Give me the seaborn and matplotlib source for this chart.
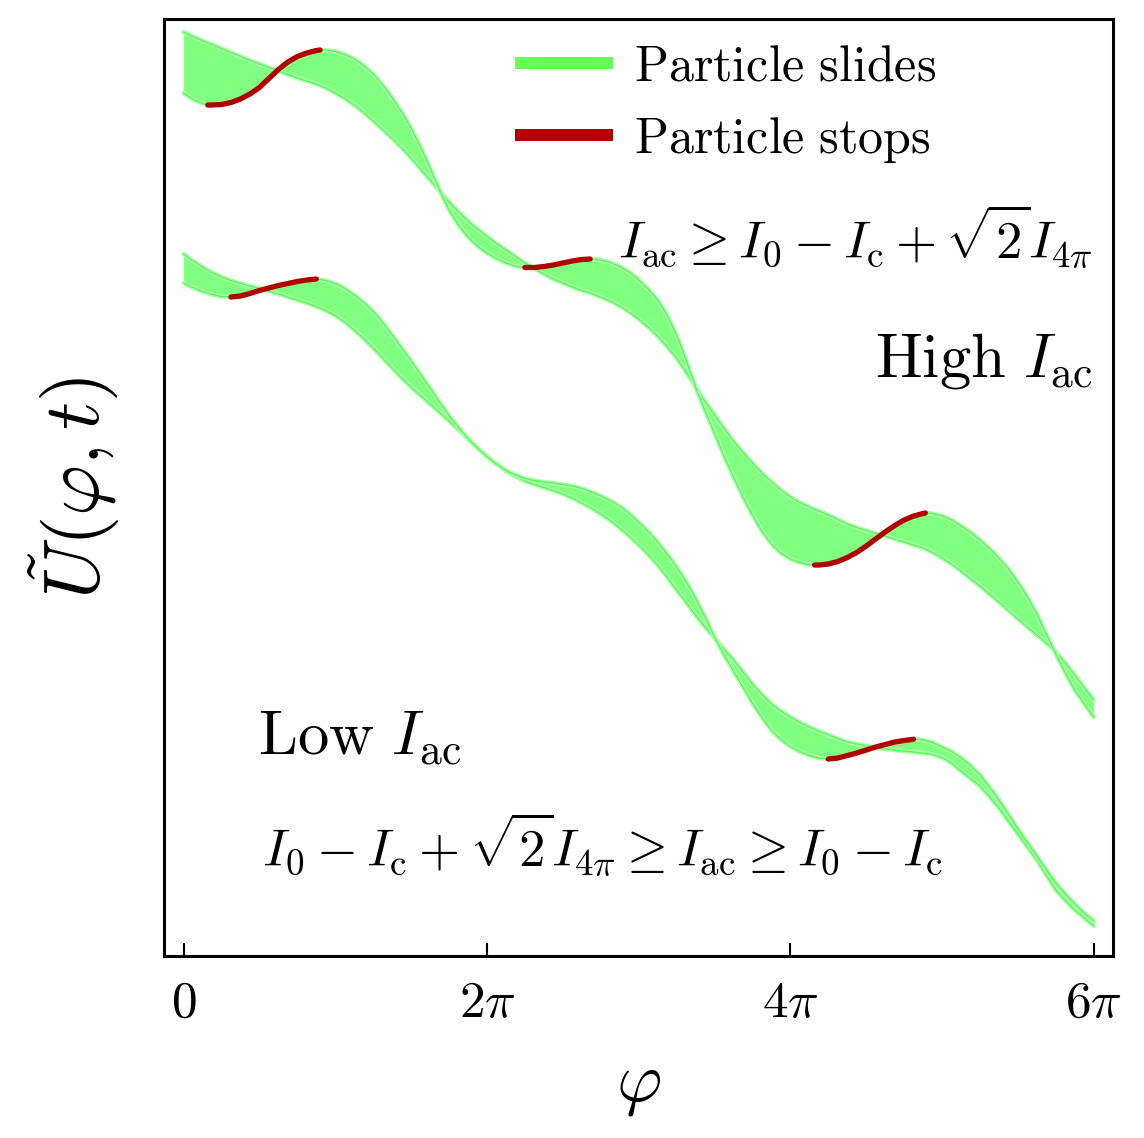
import numpy as np
import matplotlib
matplotlib.use("Agg")
import matplotlib.pyplot as plt
import seaborn as sns
from matplotlib.lines import Line2D

# phase samples (units of pi) and the two bounding potential curves of each band
# (potential in arbitrary units)
phi_hi = [0, 0.0625, 0.125, 0.16, 0.1875, 0.25, 0.3125, 0.375, 0.4375, 0.5,
          0.5625, 0.625, 0.6875, 0.75, 0.8125, 0.875, 0.9, 0.9375, 1.0, 1.0625,
          1.125, 1.1875, 1.25, 1.3125, 1.375, 1.4375, 1.5, 1.5625, 1.625, 1.6875,
          1.75, 1.8125, 1.875, 1.9375, 2.0, 2.0625, 2.125, 2.1875, 2.25, 2.3125,
          2.375, 2.4375, 2.5, 2.5625, 2.625, 2.68, 2.6875, 2.75, 2.8125, 2.875,
          2.9375, 3.0, 3.0625, 3.125, 3.1875, 3.25, 3.3125, 3.375, 3.4375, 3.5,
          3.5625, 3.625, 3.6875, 3.75, 3.8125, 3.875, 3.9375, 4.0, 4.0625, 4.125,
          4.16, 4.1875, 4.25, 4.3125, 4.375, 4.4375, 4.5, 4.5625, 4.625, 4.6875,
          4.75, 4.8125, 4.875, 4.89, 4.9375, 5.0, 5.0625, 5.125, 5.1875, 5.25,
          5.3125, 5.375, 5.4375, 5.5, 5.5625, 5.625, 5.6875, 5.75, 5.8125, 5.875,
          5.9375, 6.0]
hi_smooth = [968, 963.5, 959, 957, 955.5, 951.5, 947.5, 943.5, 939.5, 936,
             932.5, 929, 925.5, 922, 919, 916, 914.5, 912, 907, 901.5,
             895, 887.5, 879, 870.5, 861.5, 852, 842, 831, 820, 809,
             798, 788, 779, 771, 763.5, 756.5, 750, 743.5, 737, 731.5,
             726, 721, 717, 713, 709.5, 707, 706.5, 703, 699, 694,
             688, 681, 673, 664, 653.5, 642, 628, 613, 598.5, 585,
             571.5, 559, 547.5, 537, 527, 518, 510, 503, 497.5, 493,
             490.5, 489, 485, 480.5, 476, 472.5, 469.5, 466.5, 464, 461,
             458, 455, 452, 451, 447.5, 442, 436, 429, 421.5, 414,
             406, 398, 389.5, 381, 373, 365, 357, 348, 337, 325,
             312, 300]
hi_bumpy = [907, 900.5, 896.5, 895, 895, 895.5, 897.5, 901, 906, 912.5,
            921.5, 930.5, 938, 943.5, 947, 949.5, 950, 949.8, 948.5, 945.5,
            941, 934.5, 926, 915, 902, 888, 872, 853, 832, 810,
            790, 775, 763, 754, 747, 741.5, 737, 734, 732.5, 732.5,
            733.5, 735, 737, 739, 740.5, 741, 741, 740, 737.5, 733.5,
            728, 720, 711, 700, 685, 665, 640, 613, 589, 567,
            544, 523, 503, 485, 469, 456, 447, 441, 437.5, 435.5,
            435, 435, 436, 438.5, 442.5, 447.5, 454, 461, 468, 474.5,
            480, 484, 486.5, 487, 486.5, 484, 480, 474, 467.5, 460,
            451.5, 442, 431, 418, 403, 386, 366, 346, 327, 310,
            296, 283]
hi_stops = [(0.16, 0.9), (2.25, 2.68), (4.16, 4.89)]

phi_lo = [0, 0.0625, 0.125, 0.1875, 0.25, 0.3125, 0.375, 0.4375,
          0.5, 0.5625, 0.625, 0.6875, 0.75, 0.8125, 0.875, 0.9375,
          1.0, 1.0625, 1.125, 1.1875, 1.25, 1.3125, 1.375, 1.4375,
          1.5, 1.5625, 1.625, 1.6875, 1.75, 1.8125, 1.875, 1.9375,
          2.0, 2.0625, 2.125, 2.1875, 2.25, 2.3125, 2.375, 2.4375,
          2.5, 2.5625, 2.625, 2.6875, 2.75, 2.8125, 2.875, 2.9375,
          3.0, 3.0625, 3.125, 3.1875, 3.25, 3.3125, 3.375, 3.4375,
          3.5, 3.5625, 3.625, 3.6875, 3.75, 3.8125, 3.875, 3.9375,
          4.0, 4.0625, 4.125, 4.1875, 4.25, 4.3125, 4.375, 4.4375,
          4.5, 4.5625, 4.625, 4.6875, 4.75, 4.8125, 4.875, 4.9375,
          5.0, 5.0625, 5.125, 5.1875, 5.25, 5.3125, 5.375, 5.4375,
          5.5, 5.5625, 5.625, 5.6875, 5.75, 5.8125, 5.875, 5.9375,
          6.0]
lo_smooth = [746, 739, 733, 727.5, 723, 719.5, 716.5, 714,
             711.5, 709, 706, 703, 700, 697, 693.5, 689.5,
             684.5, 678, 670, 661.5, 652, 642, 632, 622,
             613, 604.5, 596, 587.5, 579, 570, 561, 552,
             543.5, 536, 529, 523.5, 519, 515.5, 512.5, 509.5,
             506, 502, 497, 492, 486, 479.5, 472, 464,
             455, 445.5, 435, 423, 410, 397.5, 385, 373,
             362, 351, 340, 328, 316, 305.5, 296, 289,
             283, 277.5, 273, 269, 265, 261.5, 258, 256,
             254, 252.5, 251, 250, 249, 248, 247, 245.5,
             242.5, 237, 229, 221.5, 214, 203.5, 192, 179,
             166, 153, 140, 125, 110, 99.5, 90, 82,
             74]
lo_bumpy = [717, 712.5, 708.5, 705.5, 703.5, 703, 704, 706.5,
            709.5, 712, 714.5, 716.5, 718.5, 720, 721, 719.5,
            716.5, 711.5, 705, 697.5, 688.5, 677.5, 665, 652,
            639, 625.5, 612, 598, 584.5, 572.5, 561.5, 552,
            543.5, 536, 529.5, 525, 521.5, 519.5, 518, 517,
            515.5, 514, 511.5, 508, 504, 499.5, 494, 486.5,
            478, 468.5, 458, 446, 433, 418.5, 402, 383,
            363, 345, 329, 313, 297, 282.5, 270, 260.5,
            253.5, 248.5, 244.5, 242, 241, 242, 244.5, 247,
            250, 253, 255.5, 258, 259.5, 260.8, 260, 257.5,
            253, 248.5, 242.5, 234.5, 225, 213, 200, 185.5,
            171, 157.5, 144, 130, 117, 106, 96, 87,
            79]
lo_stops = [(0.3125, 0.875), (4.25, 4.8125)]

tick_pos = [0, 2, 4, 6]
tick_lab = [r'$0$', r'$2\pi$', r'$4\pi$', r'$6\pi$']

sns.set_theme(style="white")
plt.rcParams['mathtext.fontset'] = 'cm'
plt.rcParams['font.family'] = ['DejaVu Serif']
plt.rcParams['text.color'] = 'black'
plt.rcParams['axes.labelcolor'] = 'black'
plt.rcParams['xtick.color'] = 'black'

FILL = '#80ff80'
EDGE = '#aaffaa'
LINE = '#55f555'
RED = '#b20000'

fig = plt.figure(figsize=(11.44, 11.38), dpi=100)
ax = fig.add_axes([0.1434, 0.1599, 0.8295, 0.8234])


def draw_band(phi, smooth, bumpy, stops):
    p = np.array(phi)
    x = p * np.pi
    ax.fill_between(x, smooth, bumpy, color=FILL, lw=0, zorder=1)
    for y in (smooth, bumpy):
        sns.lineplot(x=x, y=y, sort=False, estimator=None, color=EDGE, lw=3.2, ax=ax, zorder=2)
        sns.lineplot(x=x, y=y, sort=False, estimator=None, color=LINE, lw=0.9, ax=ax, zorder=2)
    b = np.array(bumpy)
    for a, e in stops:
        m = (p >= a - 1e-9) & (p <= e + 1e-9)
        sns.lineplot(x=x[m], y=b[m], sort=False, estimator=None,
                     color=RED, lw=3.8, ax=ax, zorder=3)


draw_band(phi_hi, hi_smooth, hi_bumpy, hi_stops)
draw_band(phi_lo, lo_smooth, lo_bumpy, lo_stops)

ax.set_xlim(-0.1285 * np.pi, 6.127 * np.pi)
ax.set_ylim(44, 981)
ax.set_xticks([t * np.pi for t in tick_pos])
ax.set_xticklabels(tick_lab, fontsize=37)
ax.set_yticks([])
ax.tick_params(axis='x', direction='in', length=9.5, width=1.5, pad=16,
               bottom=True, top=False, color='black')
for s in ax.spines.values():
    s.set_linewidth(2.2)
    s.set_color('black')

ax.set_xlabel(r'$\varphi$', fontsize=50, labelpad=17)
ax.set_ylabel(r'$\tilde{U}(\varphi,t)$', fontsize=56, labelpad=30)

handles = [Line2D([0], [0], color='#66ff55', lw=8.6, solid_capstyle='butt'),
           Line2D([0], [0], color=RED, lw=8.6, solid_capstyle='butt')]
labels = [r'$\mathrm{Particle\ slides}$', r'$\mathrm{Particle\ stops}$']
ax.legend(handles, labels, loc='upper left', bbox_to_anchor=(0.370, 0.975),
          frameon=False, fontsize=36, handlelength=1.95, handletextpad=0.42,
          labelspacing=0.45, borderpad=0, borderaxespad=0)

ax.text(0.979, 0.768, r'$I_{\mathrm{ac}} \geq I_0 - I_{\mathrm{c}} + \sqrt{2}I_{4\pi}$',
        transform=ax.transAxes, ha='right', va='center', fontsize=38)
ax.text(0.979, 0.636, r'$\mathrm{High}\ I_{\mathrm{ac}}$',
        transform=ax.transAxes, ha='right', va='center', fontsize=45)
ax.text(0.099, 0.234, r'$\mathrm{Low}\ I_{\mathrm{ac}}$',
        transform=ax.transAxes, ha='left', va='center', fontsize=45)
ax.text(0.103, 0.119,
        r'$I_0 - I_{\mathrm{c}} + \sqrt{2}I_{4\pi} \geq I_{\mathrm{ac}} \geq I_0 - I_{\mathrm{c}}$',
        transform=ax.transAxes, ha='left', va='center', fontsize=38)

fig.savefig('out.png', dpi=100)
